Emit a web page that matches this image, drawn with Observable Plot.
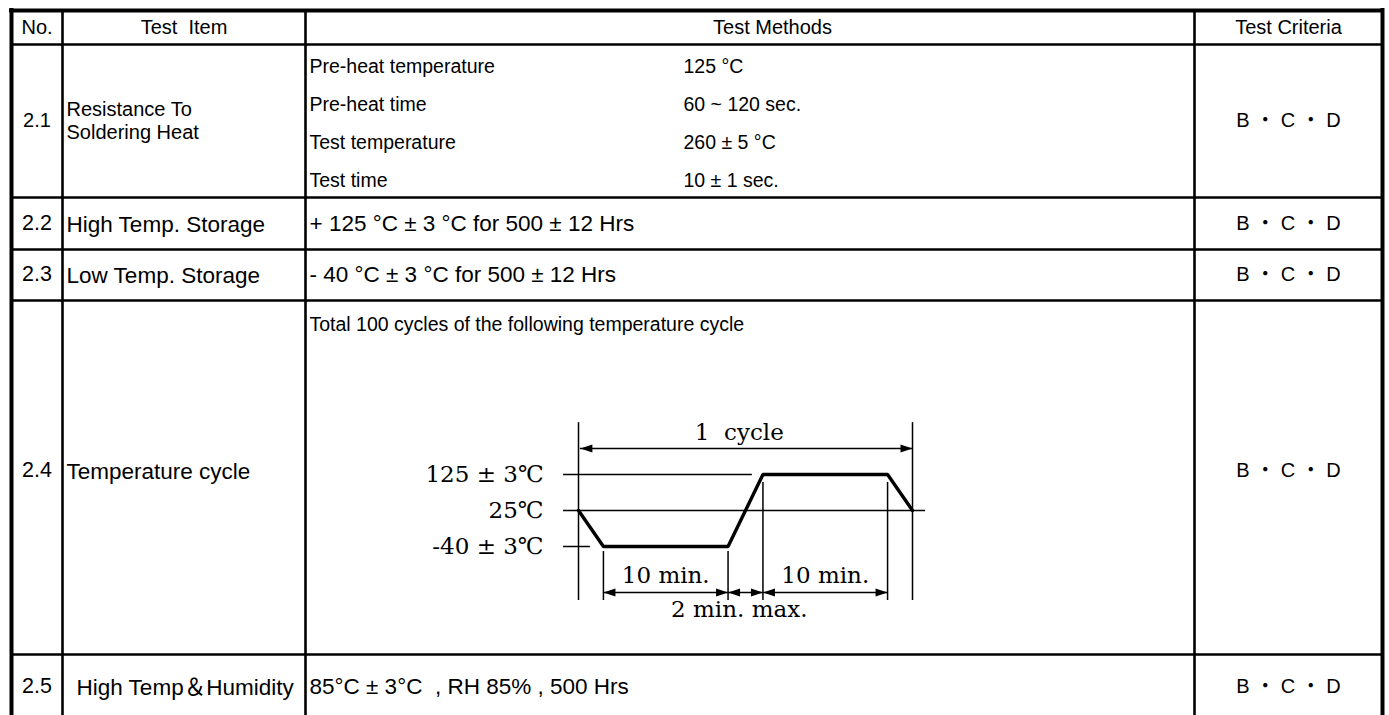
<!DOCTYPE html>
<html><head><meta charset="utf-8">
<script src="https://cdn.jsdelivr.net/npm/d3@7"></script>
<script src="https://cdn.jsdelivr.net/npm/@observablehq/plot@0.6"></script>
<style>
html,body{margin:0;padding:0;background:#fff;}
#wrap{position:relative;width:1389px;height:715px;overflow:hidden;background:#fff;}
#wrap svg{position:absolute;}
</style></head><body><div id="wrap"></div>
<script>
// ---------- DATA ----------
const headers = ["No.", "Test\u00a0 Item", "Test Methods", "Test Criteria"];
const itemNos = ["2.1", "2.2", "2.3", "2.4", "2.5"];
const itemNames = ["Resistance To\nSoldering Heat", "High Temp. Storage", "Low Temp. Storage", "Temperature cycle", "High Temp\uFF06Humidity"];
const itemMethods = ["", "+ 125 \u00b0C \u00b1 3 \u00b0C for 500 \u00b1 12 Hrs", "- 40 \u00b0C \u00b1 3 \u00b0C for 500 \u00b1 12 Hrs", "Total 100 cycles of the following temperature cycle", "85\u00b0C \u00b1 3\u00b0C\u00a0 , RH 85% , 500 Hrs"];
const itemCriteria = ["B \u30FB C \u30FB D", "B \u30FB C \u30FB D", "B \u30FB C \u30FB D", "B \u30FB C \u30FB D", "B \u30FB C \u30FB D"];
const solderParams = ["Pre-heat temperature", "Pre-heat time", "Test temperature", "Test time"];
const solderValues = ["125 \u00b0C", "60 ~ 120 sec.", "260 \u00b1 5 \u00b0C", "10 \u00b1 1 sec."];

// temperature cycle (schematic): levels and profile
const cycleLevels = ["125 \u00b1 3\u2103", "25\u2103", "-40 \u00b1 3\u2103"];
const levelTemps = [125, 25, -40];
const cycleTimes = [0, 2, 12, 14.8, 24.8, 26.8];      // minutes (schematic)
const cycleTemps = [25, -40, -40, 125, 125, 25];
const cycleLabel = "1\u00a0\u00a0cycle";
const spanLabels = ["10 min.", "", "10 min."];
const spanStarts = [2, 12, 14.8];
const spanEnds = [12, 14.8, 24.8];
const maxLabel = "2 min. max.";

// ---------- LAYOUT ----------
const W = 1389, H = 715;
const colEdges = [11, 62, 305, 1194, 1382];
const rowLines = [44, 197, 249, 300, 654];
const topY = 10;
const headerY = 27;
const rowY = [120, 223, 274, 470, 686];
const methodY = [120, 223, 274, 324, 686];
const noSize = [20, 21.5, 21.5, 21.5, 21.5];
const nameSize = [20, 22.5, 22.5, 22.5, 22.5];
const methodSize = [20, 22.5, 22.5, 19.5, 22.5];
const nameX = [66, 66, 66, 66, 76];
const solderY = [66, 104, 142, 180];
const solderX = [309, 683];
const sans = "'Liberation Sans', Arial, 'Noto Sans CJK JP', sans-serif";
const serif = "'DejaVu Serif', 'Noto Sans CJK JP', serif";
const fs = 20;

const mid = (a, b) => (a + b) / 2;
const headerX = [mid(colEdges[0], colEdges[1]), mid(colEdges[1], colEdges[2]), 772, mid(colEdges[3], colEdges[4])];

const rows = itemNos.map((no, i) => ({
  no, name: itemNames[i], method: itemMethods[i], crit: itemCriteria[i],
  y: rowY[i], my: methodY[i], nameX: nameX[i]
}));
const solder = solderParams.map((p, i) => ({p, v: solderValues[i], y: solderY[i]}));

const txt = {fill: "black", fontFamily: sans, lineAnchor: "middle"};

// one text mark per row so that each row can keep its own font size
const rowMarks = rows.flatMap((r, i) => [
  Plot.text([r], {...txt, fontSize: noSize[i], x: mid(colEdges[0], colEdges[1]), y: "y", text: "no", textAnchor: "middle"}),
  Plot.text([r], {...txt, fontSize: nameSize[i], x: "nameX", y: "y", text: "name", textAnchor: "start", lineHeight: 1.15}),
  Plot.text([r], {...txt, fontSize: methodSize[i], x: colEdges[2] + 4, y: "my", text: "method", textAnchor: "start"}),
  Plot.text([r], {...txt, fontSize: fs, x: mid(colEdges[3], colEdges[4]), y: "y", text: "crit", textAnchor: "middle"})
]);

const table = Plot.plot({
  width: W, height: H, margin: 0,
  style: {background: "white", overflow: "visible"},
  x: {type: "linear", domain: [0, W], range: [0, W], axis: null},
  y: {type: "linear", domain: [0, H], range: [0, H], axis: null},
  marks: [
    Plot.ruleX(colEdges.slice(1, -1), {x: d => d, y1: topY, y2: H, stroke: "black", strokeWidth: 2.6}),
    Plot.ruleY(rowLines, {y: d => d, x1: colEdges[0], x2: colEdges[4], stroke: "black", strokeWidth: 2.6}),
    Plot.ruleX([colEdges[0], colEdges[4]], {x: d => d, y1: topY - 2, y2: H, stroke: "black", strokeWidth: 4}),
    Plot.ruleY([topY], {y: d => d, x1: colEdges[0] - 2, x2: colEdges[4] + 2, stroke: "black", strokeWidth: 4}),
    Plot.text(headers, {...txt, fontSize: fs, x: (d, i) => headerX[i], y: headerY, text: d => d, textAnchor: "middle"}),
    ...rowMarks,
    Plot.text(solder, {...txt, fontSize: 19.5, x: solderX[0], y: "y", text: "p", textAnchor: "start"}),
    Plot.text(solder, {...txt, fontSize: 19.5, x: solderX[1], y: "y", text: "v", textAnchor: "start"})
  ]
});
document.getElementById("wrap").appendChild(table);

// ---------- TEMPERATURE CYCLE DIAGRAM ----------
const DX = 380, DY = 400, DW = 600, DH = 240;
const tEnd = cycleTimes[cycleTimes.length - 1];
const profile = cycleTimes.map((t, i) => ({t, lv: levelTemps.indexOf(cycleTemps[i])}));
// schematic positions (in minutes / level units)
const vTop = -1.44, vBot = 3.5, cycleArrowY = -0.72, cycleTextY = -1.17;
const spanArrowY = 3.28, spanTextY = 2.8, maxTextY = 3.75;
const refStart = -1.2, refEnds = [13.95, 27.85, 0.95];
const labelX = -2.8;
const labelShift = -0.5;
const innerTops = [2.14, 2.14, 0.22, 0.22];
const innerTimes = [cycleTimes[1], cycleTimes[2], cycleTimes[3], cycleTimes[4]];

function head(dir, L, w) {
  return {draw(ctx) { ctx.moveTo(0, 0); ctx.lineTo(-dir * L, -w); ctx.lineTo(-dir * L, w); ctx.closePath(); }};
}
const headR = head(1, 12, 4), headL = head(-1, 12, 4);
const arrows = [{a: 0, b: tEnd, y: cycleArrowY, ia: 0.15, ib: 0}]
  .concat(spanStarts.map((s, i) => ({a: s, b: spanEnds[i], y: spanArrowY, ia: 0, ib: 0})));

const dtxt = {textAnchor: "middle", lineAnchor: "middle", fill: "black", fontSize: 23, fontFamily: serif};
const diagram = Plot.plot({
  width: DW, height: DH, margin: 0,
  style: {background: "none", overflow: "visible"},
  x: {type: "linear", domain: [0, tEnd], range: [198, 532], axis: null},
  y: {type: "linear", domain: [0, 2], range: [74, 146], axis: null},
  marks: [
    Plot.ruleY(cycleLevels, {y: (d, i) => i, x1: refStart, x2: (d, i) => refEnds[i], stroke: "black", strokeWidth: 1.5}),
    Plot.ruleX([0, tEnd], {x: d => d, y1: vTop, y2: vBot, stroke: "black", strokeWidth: 1.5}),
    Plot.ruleX(innerTimes, {x: d => d, y1: (d, i) => innerTops[i], y2: vBot, stroke: "black", strokeWidth: 1.5}),
    Plot.line(profile, {x: "t", y: "lv", stroke: "black", strokeWidth: 3.4, strokeLinejoin: "miter"}),
    Plot.ruleY(arrows, {y: "y", x1: d => d.a + d.ia, x2: d => d.b, stroke: "black", strokeWidth: 1.5}),
    Plot.dot(arrows, {x: d => d.a + d.ia, y: "y", symbol: headL, fill: "black", stroke: "none"}),
    Plot.dot(arrows, {x: "b", y: "y", symbol: headR, fill: "black", stroke: "none"}),
    Plot.text(cycleLevels, {...dtxt, x: labelX, y: (d, i) => i, text: d => d, textAnchor: "end"}),
    Plot.text([cycleLabel], {...dtxt, x: tEnd / 2 + labelShift, y: cycleTextY, text: d => d}),
    Plot.text(spanLabels.map((l, i) => ({l, x: mid(spanStarts[i], spanEnds[i])})), {...dtxt, x: "x", y: spanTextY, text: "l"}),
    Plot.text([maxLabel], {...dtxt, x: mid(spanStarts[1], spanEnds[1]) + labelShift, y: maxTextY, text: d => d})
  ]
});
diagram.style.left = DX + "px";
diagram.style.top = DY + "px";
document.getElementById("wrap").appendChild(diagram);
</script></body></html>
